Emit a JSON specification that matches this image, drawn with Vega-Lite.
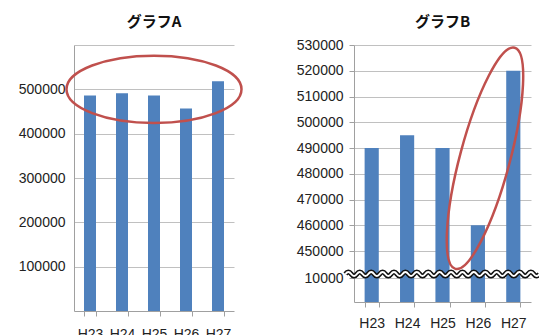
{
  "$schema": "https://vega.github.io/schema/vega-lite/v6.json",
  "autosize": {"type": "pad"},
  "padding": {"left": 18, "top": 15, "right": 0, "bottom": 0},
  "background": "white",
  "spacing": 120,
  "bounds": "flush",
  "config": {
    "view": {"stroke": null},
    "axis": {"labelFont": "Liberation Sans", "labelColor": "#222222", "domainColor": "#a0a0a0", "tickColor": "#a0a0a0", "gridColor": "#c0c0c0", "title": null, "labelOverlap": false},
    "title": {"font": "Noto Sans CJK JP", "fontSize": 15, "fontWeight": "bold", "color": "#111111", "anchor": "middle", "offset": 8}
  },
  "datasets": {
    "a": [
      {"cat": "H23", "value": 486000},
      {"cat": "H24", "value": 491000},
      {"cat": "H25", "value": 486000},
      {"cat": "H26", "value": 457000},
      {"cat": "H27", "value": 518000}
    ],
    "b": [
      {"cat": "H23", "value": 490000},
      {"cat": "H24", "value": 495000},
      {"cat": "H25", "value": 490000},
      {"cat": "H26", "value": 460000},
      {"cat": "H27", "value": 520000}
    ],
    "markA": [{"cat": "H25", "value": 500000}],
    "markB": [{"cat": "H26", "value": 486000}],
    "wave": [{"cat": "H25", "value": 75000}]
  },
  "hconcat": [
    {
      "title": "グラフA",
      "width": 160,
      "height": 266,
      "layer": [
        {
          "data": {"name": "a"},
          "mark": {"type": "bar", "color": "#4f81bd"},
          "encoding": {
            "x": {"field": "cat", "type": "nominal", "scale": {"paddingInner": 0.625, "paddingOuter": 0.3125},
              "axis": {"labelAngle": 0, "tickBand": "extent", "tickSize": 5, "labelPadding": 11, "labelFontSize": 14, "grid": false}},
            "y": {"field": "value", "type": "quantitative", "scale": {"domain": [0, 600000], "nice": false},
              "axis": {"values": [100000, 200000, 300000, 400000, 500000, 600000], "tickCount": 20, "format": "d", "labelExpr": "datum.value >= 600000 ? '' : datum.label", "ticks": false, "labelPadding": 9, "labelFontSize": 14, "labelOverlap": false}}
          }
        },
        {
          "data": {"name": "markA"},
          "mark": {"type": "point", "shape": "M1,0C1,0.2126,0.5523,0.385,0,0.385C-0.5523,0.385,-1,0.2126,-1,0C-1,-0.2126,-0.5523,-0.385,0,-0.385C0.5523,-0.385,1,-0.2126,1,0Z", "size": 30625, "filled": false, "stroke": "#c0504d", "strokeWidth": 2.5, "opacity": 1},
          "encoding": {
            "x": {"field": "cat", "type": "nominal"},
            "y": {"field": "value", "type": "quantitative"}
          }
        }
      ]
    },
    {
      "title": "グラフB",
      "width": 177,
      "height": 257,
      "layer": [
        {
          "data": {"name": "b"},
          "mark": {"type": "bar", "color": "#4f81bd"},
          "encoding": {
            "x": {"field": "cat", "type": "nominal", "scale": {"paddingInner": 0.6, "paddingOuter": 0.3},
              "axis": {"labelAngle": 0, "tickBand": "extent", "tickSize": 5, "labelPadding": 9, "labelFontSize": 14, "grid": false}},
            "y": {"field": "value", "type": "quantitative", "scale": {"domain": [0, 10000, 450000, 530000], "range": [257, 233, 206, 0], "zero": false, "nice": false},
              "axis": {"values": [10000, 450000, 460000, 470000, 480000, 490000, 500000, 510000, 520000, 530000], "tickCount": 20, "format": "d", "tickSize": 5, "labelPadding": 6, "labelFontSize": 14, "labelOverlap": false, "labelFlush": false}}
          }
        },
        {
          "data": {"name": "wave"},
          "mark": {"type": "point", "shape": "M-1,0Q-0.9706,-0.042,-0.9412,0Q-0.9118,0.042,-0.8824,0Q-0.853,-0.042,-0.8236,0Q-0.7942,0.042,-0.7648,0Q-0.7354,-0.042,-0.706,0Q-0.6766,0.042,-0.6472,0Q-0.6178,-0.042,-0.5884,0Q-0.559,0.042,-0.5296,0Q-0.5002,-0.042,-0.4708,0Q-0.4414,0.042,-0.412,0Q-0.3826,-0.042,-0.3532,0Q-0.3238,0.042,-0.2944,0Q-0.265,-0.042,-0.2356,0Q-0.2062,0.042,-0.1768,0Q-0.1474,-0.042,-0.118,0Q-0.0886,0.042,-0.0592,0Q-0.0298,-0.042,-0.0004,0Q0.029,0.042,0.0584,0Q0.0878,-0.042,0.1172,0Q0.1466,0.042,0.176,0Q0.2054,-0.042,0.2348,0Q0.2642,0.042,0.2936,0Q0.323,-0.042,0.3524,0Q0.3818,0.042,0.4112,0Q0.4406,-0.042,0.47,0Q0.4994,0.042,0.5288,0Q0.5582,-0.042,0.5876,0Q0.617,0.042,0.6464,0Q0.6758,-0.042,0.7052,0Q0.7346,0.042,0.764,0Q0.7934,-0.042,0.8228,0Q0.8522,0.042,0.8816,0Q0.911,-0.042,0.9404,0Q0.9698,0.042,0.9992,0", "size": 37636, "filled": false, "stroke": "#111111", "strokeWidth": 5, "opacity": 1},
          "encoding": {
            "x": {"field": "cat", "type": "nominal"},
            "y": {"field": "value", "type": "quantitative"}
          }
        },
        {
          "data": {"name": "wave"},
          "mark": {"type": "point", "shape": "M-1,0Q-0.9706,-0.042,-0.9412,0Q-0.9118,0.042,-0.8824,0Q-0.853,-0.042,-0.8236,0Q-0.7942,0.042,-0.7648,0Q-0.7354,-0.042,-0.706,0Q-0.6766,0.042,-0.6472,0Q-0.6178,-0.042,-0.5884,0Q-0.559,0.042,-0.5296,0Q-0.5002,-0.042,-0.4708,0Q-0.4414,0.042,-0.412,0Q-0.3826,-0.042,-0.3532,0Q-0.3238,0.042,-0.2944,0Q-0.265,-0.042,-0.2356,0Q-0.2062,0.042,-0.1768,0Q-0.1474,-0.042,-0.118,0Q-0.0886,0.042,-0.0592,0Q-0.0298,-0.042,-0.0004,0Q0.029,0.042,0.0584,0Q0.0878,-0.042,0.1172,0Q0.1466,0.042,0.176,0Q0.2054,-0.042,0.2348,0Q0.2642,0.042,0.2936,0Q0.323,-0.042,0.3524,0Q0.3818,0.042,0.4112,0Q0.4406,-0.042,0.47,0Q0.4994,0.042,0.5288,0Q0.5582,-0.042,0.5876,0Q0.617,0.042,0.6464,0Q0.6758,-0.042,0.7052,0Q0.7346,0.042,0.764,0Q0.7934,-0.042,0.8228,0Q0.8522,0.042,0.8816,0Q0.911,-0.042,0.9404,0Q0.9698,0.042,0.9992,0", "size": 37636, "filled": false, "stroke": "#ffffff", "strokeWidth": 2, "opacity": 1},
          "encoding": {
            "x": {"field": "cat", "type": "nominal"},
            "y": {"field": "value", "type": "quantitative"}
          }
        },
        {
          "data": {"name": "markB"},
          "mark": {"type": "point", "shape": "M0,-1C0.1204,-1,0.218,-0.5523,0.218,0C0.218,0.5523,0.1204,1,0,1C-0.1204,1,-0.218,0.5523,-0.218,0C-0.218,-0.5523,-0.1204,-1,0,-1Z", "size": 52441, "angle": 15, "filled": false, "stroke": "#c0504d", "strokeWidth": 2.5, "opacity": 1},
          "encoding": {
            "x": {"field": "cat", "type": "nominal", "bandPosition": 1},
            "y": {"field": "value", "type": "quantitative"}
          }
        }
      ]
    }
  ]
}
